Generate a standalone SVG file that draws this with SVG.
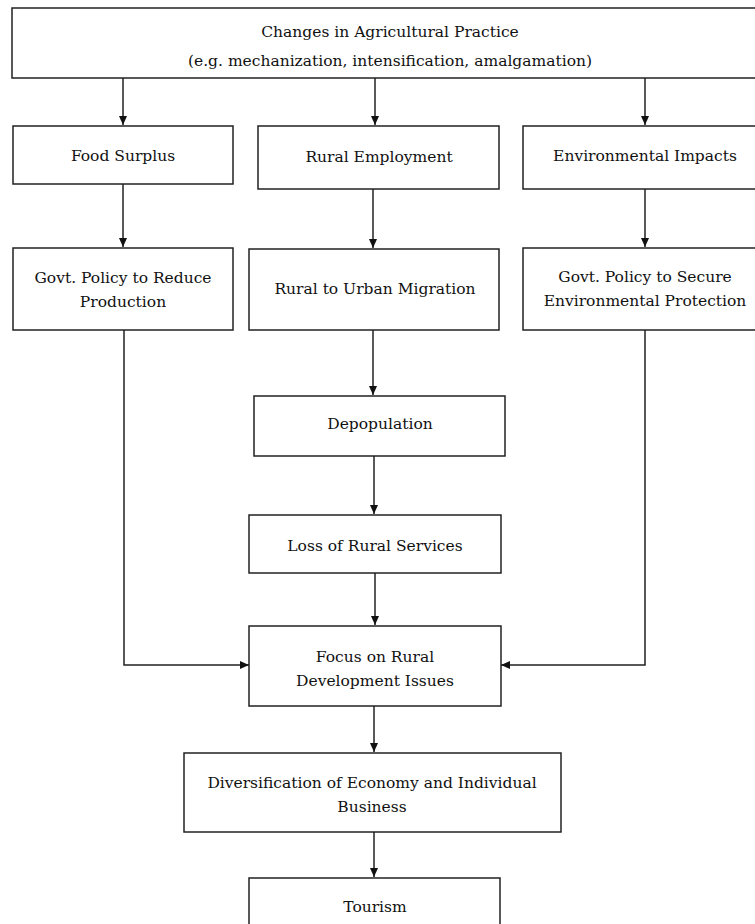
<svg xmlns="http://www.w3.org/2000/svg" width="755" height="924" viewBox="0 0 755 924">
<defs>
<marker id="ah" markerWidth="10" markerHeight="10" refX="9" refY="5" orient="auto" markerUnits="userSpaceOnUse">
<path d="M0,1 L9,5 L0,9 Z" fill="#111"/>
</marker>
<style>
.box{fill:#fff;stroke:#222;stroke-width:1.5}
.t{font-family:"DejaVu Serif","Liberation Serif",serif;font-size:15.5px;fill:#111;text-anchor:middle}
.c{fill:none;stroke:#222;stroke-width:1.5;marker-end:url(#ah)}
</style>
</defs>
<rect width="755" height="924" fill="#fff"/>
<g id="connectors">
<path class="c" d="M123,78 V125"/>
<path class="c" d="M375,78 V125"/>
<path class="c" d="M645,78 V125"/>
<path class="c" d="M123,184 V247"/>
<path class="c" d="M373,189 V248"/>
<path class="c" d="M645,189 V247"/>
<path class="c" d="M373,330 V395"/>
<path class="c" d="M374,456 V514"/>
<path class="c" d="M375,573 V625"/>
<path class="c" d="M124,330 V665 H249"/>
<path class="c" d="M645,330 V665 H501"/>
<path class="c" d="M374,706 V752"/>
<path class="c" d="M374,832 V877"/>
</g>
<g id="n-changes">
<rect class="box" x="12" y="8" width="756" height="70"/>
<text class="t" x="390" y="37">Changes in Agricultural Practice</text>
<text class="t" x="390" y="66">(e.g. mechanization, intensification, amalgamation)</text>
</g>
<g id="n-food">
<rect class="box" x="13" y="126" width="220" height="58"/>
<text class="t" x="123" y="161">Food Surplus</text>
</g>
<g id="n-employment">
<rect class="box" x="258" y="126" width="241" height="63"/>
<text class="t" x="379" y="162">Rural Employment</text>
</g>
<g id="n-environment">
<rect class="box" x="523" y="126" width="244" height="63"/>
<text class="t" x="645" y="161">Environmental Impacts</text>
</g>
<g id="n-reduce">
<rect class="box" x="13" y="248" width="220" height="82"/>
<text class="t" x="123" y="283">Govt. Policy to Reduce</text>
<text class="t" x="123" y="307">Production</text>
</g>
<g id="n-migration">
<rect class="box" x="249" y="249" width="250" height="81"/>
<text class="t" x="375" y="294">Rural to Urban Migration</text>
</g>
<g id="n-secure">
<rect class="box" x="523" y="248" width="244" height="82"/>
<text class="t" x="645" y="282">Govt. Policy to Secure</text>
<text class="t" x="645" y="306">Environmental Protection</text>
</g>
<g id="n-depopulation">
<rect class="box" x="254" y="396" width="251" height="60"/>
<text class="t" x="380" y="429">Depopulation</text>
</g>
<g id="n-loss">
<rect class="box" x="249" y="515" width="252" height="58"/>
<text class="t" x="375" y="551">Loss of Rural Services</text>
</g>
<g id="n-focus">
<rect class="box" x="249" y="626" width="252" height="80"/>
<text class="t" x="375" y="662">Focus on Rural</text>
<text class="t" x="375" y="686">Development Issues</text>
</g>
<g id="n-diversification">
<rect class="box" x="184" y="753" width="377" height="79"/>
<text class="t" x="372" y="788">Diversification of Economy and Individual</text>
<text class="t" x="372" y="812">Business</text>
</g>
<g id="n-tourism">
<rect class="box" x="249" y="878" width="251" height="60"/>
<text class="t" x="375" y="912">Tourism</text>
</g>
</svg>
